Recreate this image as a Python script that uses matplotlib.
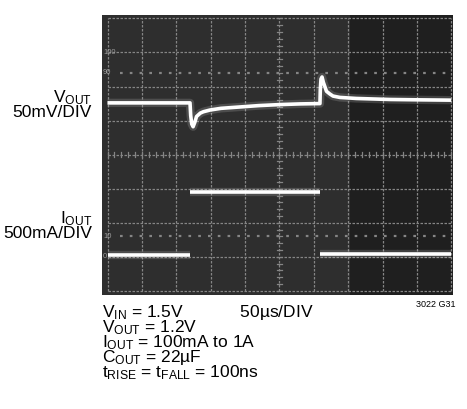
import matplotlib
matplotlib.use("Agg")
import matplotlib.pyplot as plt
import numpy as np

plt.rcParams['font.family'] = ['Liberation Sans', 'DejaVu Sans']
plt.rcParams['mathtext.fontset'] = 'custom'
plt.rcParams['mathtext.rm'] = 'Liberation Sans'
plt.rcParams['mathtext.it'] = 'Liberation Sans'
plt.rcParams['mathtext.bf'] = 'Liberation Sans'

# ---- data (in scope divisions) ----
vout_x = [0.0, 2.40, 2.42, 2.45, 2.49, 2.54, 2.59, 2.70, 2.79, 2.98, 3.30, 3.85, 4.40, 5.01, 5.60, 6.18,
          6.19, 6.21, 6.24, 6.28, 6.37, 6.47, 6.56, 6.76, 7.24, 8.21, 9.00, 10.0]
vout_y = [5.52, 5.52, 5.15, 4.90, 4.82, 4.95, 5.12, 5.22, 5.26, 5.31, 5.36, 5.40, 5.44, 5.47, 5.49, 5.50,
          5.90, 6.22, 6.28, 6.12, 5.86, 5.78, 5.72, 5.68, 5.65, 5.62, 5.61, 5.60]

iout_low1_x = [0.0, 2.40]
iout_low1_y = [1.06, 1.06]
iout_high_x = [2.40, 6.18]
iout_high_y = [2.89, 2.89]
iout_low2_x = [6.18, 10.0]
iout_low2_y = [1.08, 1.08]

pct_labels = ['100', '90', '10', '0']
pct_levels = [7.0, 6.4, 1.6, 1.0]

cond_lines = [r'V$_{\mathrm{IN}}$ = 1.5V' + ' ' * 12 + '50µs/DIV',
              r'V$_{\mathrm{OUT}}$ = 1.2V',
              r'I$_{\mathrm{OUT}}$ = 100mA to 1A',
              r'C$_{\mathrm{OUT}}$ = 22µF',
              r't$_{\mathrm{RISE}}$ = t$_{\mathrm{FALL}}$ = 100ns']

W, H = 467, 409
fig = plt.figure(figsize=(W / 100, H / 100), dpi=100)
fig.patch.set_facecolor('white')

# screen axes (pixels: x 102..453, y 15..295)
ax = fig.add_axes([102 / W, 1 - 295 / H, 351 / W, 280 / H])
ax.set_xlim(-0.16, 10.05)
ax.set_ylim(-0.12, 8.10)
ax.set_facecolor('#2e2e2e')
ax.axvspan(7.05, 10.2, color='#1f1f1f', zorder=0, lw=0)
for s in ax.spines.values():
    s.set_visible(False)
ax.set_xticks([])
ax.set_yticks([])

gcol = '#858585'
for gx in range(11):
    ax.plot([gx, gx], [0, 8], color=gcol, lw=0.9, ls=(0, (2, 1.2)), zorder=1)
for gy in range(9):
    ax.plot([0, 10], [gy, gy], color=gcol, lw=0.9, ls=(0, (2, 1.2)), zorder=1)
for lvl in [6.4, 1.6]:
    ax.plot([0.35, 10], [lvl, lvl], color=gcol, lw=1.6, ls=(0, (1.2, 3.2)), zorder=1)
for t in np.arange(0, 10.01, 0.2):
    ax.plot([t, t], [3.92, 4.08], color=gcol, lw=0.9, zorder=1)
for t in np.arange(0, 8.01, 0.2):
    ax.plot([4.92, 5.08], [t, t], color=gcol, lw=0.9, zorder=1)
for lab, lvl in zip(pct_labels, pct_levels):
    ax.text(-0.13, lvl, lab, color='#9a9a9a', fontsize=5.5, va='center', ha='left', zorder=2)

def trace(x, y):
    ax.plot(x, y, color='white', lw=6, alpha=0.15, solid_capstyle='butt', zorder=3)
    ax.plot(x, y, color='white', lw=2.6, solid_capstyle='butt', solid_joinstyle='round', zorder=4)

trace(vout_x, vout_y)
trace(iout_low1_x, iout_low1_y)
trace(iout_high_x, iout_high_y)
trace(iout_low2_x, iout_low2_y)

def fx(px):
    return px / W

def fy(py):
    return 1 - py / H

fs = 12.5
fig.text(fx(92), fy(117), 'V$_{\\mathrm{OUT}}$\n50mV/DIV', ha='right', va='baseline',
         multialignment='right', fontsize=fs, linespacing=0.85)
fig.text(fx(92), fy(238), 'I$_{\\mathrm{OUT}}$\n500mA/DIV', ha='right', va='baseline',
         multialignment='right', fontsize=fs, linespacing=0.85)

fig.text(fx(102), fy(377.2), '\n'.join(cond_lines), ha='left', va='baseline', fontsize=fs,
         linespacing=0.72)
fig.text(fx(455), fy(307), '3022 G31', ha='right', va='baseline', fontsize=6.5)

fig.savefig('out.png', dpi=100, facecolor='white')
